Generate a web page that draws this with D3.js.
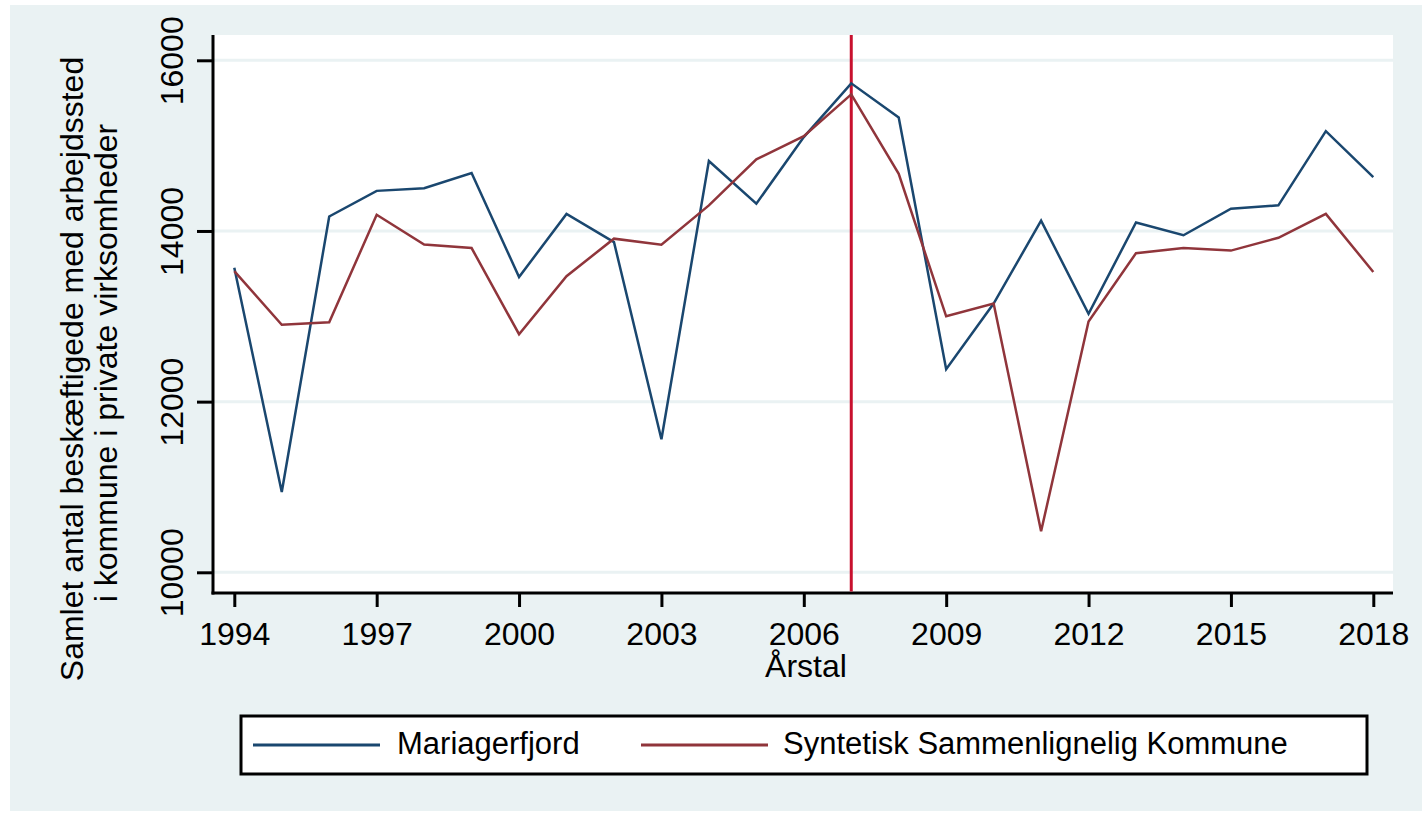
<!DOCTYPE html>
<html>
<head>
  <script src="https://d3js.org/d3.v7.min.js"></script>
  <title>Mariagerfjord</title>
  <style>
  body { margin: 0; background: white; }
  text { font-family: "Liberation Sans", Arial, Helvetica, sans-serif; fill: black; }
  </style>
</head>
<body>
<svg id="chart" width="1422" height="815"></svg>
<script>
// data
var years = [1994, 1995, 1996, 1997, 1998, 1999, 2000, 2001, 2002, 2003, 2004, 2005, 2006,
             2007, 2008, 2009, 2010, 2011, 2012, 2013, 2014, 2015, 2016, 2017, 2018];
var mariagerfjord = [13570, 10940, 14170, 14470, 14500, 14680, 13460, 14200, 13870, 11560, 14820, 14320, 15100,
                     15730, 15330, 12380, 13150, 14120, 13030, 14100, 13950, 14260, 14300, 15170, 14630];
var syntetisk = [13530, 12900, 12930, 14190, 13840, 13800, 12790, 13470, 13910, 13840, 14300, 14840, 15110,
                 15600, 14670, 13000, 13150, 10480, 12940, 13740, 13800, 13770, 13920, 14200, 13520];
var xTicks = [1994, 1997, 2000, 2003, 2006, 2009, 2012, 2015, 2018];
var yTicks = [10000, 12000, 14000, 16000];
var treatmentYear = 2007;
var seriesNames = ["Mariagerfjord", "Syntetisk Sammenlignelig Kommune"];
var seriesColors = ["#1a476f", "#90353b"];

var svg = d3.select("#chart");
var bg = "#eaf2f3";

// graph region
svg.append("rect").attr("x", 10).attr("y", 5).attr("width", 1412).attr("height", 806).attr("fill", bg);

// plot region
var plotLeft = 213, plotRight = 1393, plotTop = 35, plotBottom = 593;
svg.append("rect")
  .attr("x", plotLeft).attr("y", plotTop)
  .attr("width", plotRight - plotLeft).attr("height", plotBottom - plotTop)
  .attr("fill", "white");

var xs = d3.scaleLinear().domain([1994, 2018]).range([234.3, 1373.3]);
var ys = d3.scaleLinear().domain([10000, 16000]).range([572.3, 60.3]);

// gridlines
svg.append("g").selectAll("line").data(yTicks).enter().append("line")
  .attr("x1", plotLeft).attr("x2", plotRight)
  .attr("y1", function(d){ return ys(d); }).attr("y2", function(d){ return ys(d); })
  .attr("stroke", bg).attr("stroke-width", 3);

// y axis
var yAxis = svg.append("g")
  .attr("transform", "translate(" + plotLeft + ",0)")
  .call(d3.axisLeft(ys).tickValues(yTicks).tickSize(16).tickPadding(0).tickFormat(d3.format("d")));
yAxis.select(".domain").attr("d", "M0," + plotTop + "V" + (plotBottom + 1.5)).attr("stroke", "black").attr("stroke-width", 3);
yAxis.selectAll(".tick line").attr("stroke", "black").attr("stroke-width", 3);
yAxis.selectAll(".tick text")
  .attr("x", 0).attr("y", 0).attr("dy", 0)
  .attr("transform", "translate(-30,0) rotate(-90)")
  .attr("text-anchor", "middle")
  .style("font-size", "32px").style("font-family", "Liberation Sans, Arial").attr("fill", "black");

// x axis
var xAxis = svg.append("g")
  .attr("transform", "translate(0," + plotBottom + ")")
  .call(d3.axisBottom(xs).tickValues(xTicks).tickSize(14).tickPadding(0).tickFormat(d3.format("d")));
xAxis.select(".domain").attr("d", "M" + (plotLeft - 1.5) + ",0H" + plotRight).attr("stroke", "black").attr("stroke-width", 3);
xAxis.selectAll(".tick line").attr("stroke", "black").attr("stroke-width", 3);
xAxis.selectAll(".tick text")
  .attr("y", 52).attr("dy", 0)
  .style("font-size", "32px").style("font-family", "Liberation Sans, Arial").attr("fill", "black");

// treatment line
svg.append("line")
  .attr("x1", xs(treatmentYear)).attr("x2", xs(treatmentYear))
  .attr("y1", plotTop).attr("y2", plotBottom - 1.5)
  .attr("stroke", "#c8102e").attr("stroke-width", 3);

// series
var line = d3.line()
  .x(function(d, i){ return xs(years[i]); })
  .y(function(d){ return ys(d); });

[mariagerfjord, syntetisk].forEach(function(s, k) {
  svg.append("path").datum(s)
    .attr("d", line)
    .attr("fill", "none")
    .attr("stroke", seriesColors[k])
    .attr("stroke-width", 2.5)
    .attr("stroke-linejoin", "miter");
});

// axis titles
svg.append("text")
  .attr("x", 806).attr("y", 677)
  .attr("text-anchor", "middle")
  .style("font-size", "32px")
  .text("Årstal");

svg.append("text")
  .attr("transform", "translate(83,369) rotate(-90)")
  .attr("text-anchor", "middle")
  .style("font-size", "32px")
  .text("Samlet antal beskæftigede med arbejdssted");
svg.append("text")
  .attr("transform", "translate(117,363) rotate(-90)")
  .attr("text-anchor", "middle")
  .style("font-size", "32px")
  .text("i kommune i private virksomheder");

// legend
svg.append("rect")
  .attr("x", 241).attr("y", 716).attr("width", 1126).attr("height", 58)
  .attr("fill", "white").attr("stroke", "black").attr("stroke-width", 3);

var legendX = [253, 641];
var legendText = [397, 783];
seriesNames.forEach(function(name, k) {
  svg.append("line")
    .attr("x1", legendX[k]).attr("x2", legendX[k] + 127)
    .attr("y1", 745).attr("y2", 745)
    .attr("stroke", seriesColors[k]).attr("stroke-width", 3);
  svg.append("text")
    .attr("x", legendText[k]).attr("y", 754)
    .style("font-size", "31px")
    .text(name);
});
</script>
</body>
</html>
